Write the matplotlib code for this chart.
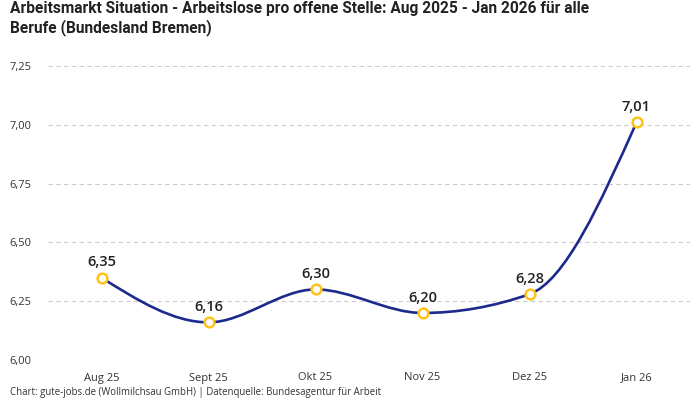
import matplotlib.pyplot as plt
import numpy as np
from matplotlib.path import Path
from matplotlib.patches import PathPatch
from matplotlib import font_manager

months = ["Aug 25", "Sept 25", "Okt 25", "Nov 25", "Dez 25", "Jan 26"]
values = [6.35, 6.16, 6.30, 6.20, 6.28, 7.01]
y_ticks = [6.00, 6.25, 6.50, 6.75, 7.00, 7.25]

title = "Arbeitsmarkt Situation - Arbeitslose pro offene Stelle: Aug 2025 - Jan 2026 für alle\nBerufe (Bundesland Bremen)"
footer = "Chart: gute-jobs.de (Wollmilchsau GmbH) | Datenquelle: Bundesagentur für Arbeit"

line_color = "#1b2a8c"
marker_color = "#ffc21a"
text_color = "#222222"


def de(v):
    return f"{v:.2f}".replace(".", ",")


def monotone_path(x, y):
    # monotone cubic like d3.curveMonotoneX
    x = np.asarray(x, float)
    y = np.asarray(y, float)
    n = len(x)
    h = np.diff(x)
    s = np.diff(y) / h
    t = np.zeros(n)
    for i in range(1, n - 1):
        p = (s[i - 1] * h[i] + s[i] * h[i - 1]) / (h[i - 1] + h[i])
        t[i] = (np.sign(s[i - 1]) + np.sign(s[i])) * min(abs(s[i - 1]), abs(s[i]), 0.5 * abs(p))
    t[0] = (3 * s[0] - t[1]) / 2
    t[-1] = (3 * s[-1] - t[-2]) / 2
    verts = [(x[0], y[0])]
    codes = [Path.MOVETO]
    for i in range(n - 1):
        dx = (x[i + 1] - x[i]) / 3
        verts += [(x[i] + dx, y[i] + dx * t[i]),
                  (x[i + 1] - dx, y[i + 1] - dx * t[i + 1]),
                  (x[i + 1], y[i + 1])]
        codes += [Path.CURVE4] * 3
    return Path(verts, codes)


installed = {f.name for f in font_manager.fontManager.ttflist}
if "Liberation Sans Narrow" in installed:
    title_font, title_size = "Liberation Sans Narrow", 12
else:
    title_font, title_size = "Roboto", 11.2

plt.rcParams["font.family"] = ["Open Sans", "DejaVu Sans"]

fig = plt.figure(figsize=(7, 4), dpi=100)
ax = fig.add_axes([48 / 700, 0.1, 642 / 700, 0.735])

xs = np.arange(len(months))
ax.add_patch(PathPatch(monotone_path(xs, values), fill=False, color=line_color, lw=1.9, zorder=3))
ax.plot(xs, values, "o", ms=7, mfc="white", mec=marker_color, mew=1.8, zorder=4)
for xi, v in zip(xs, values):
    ax.annotate(de(v), (xi, v), xytext=(0, 6), textcoords="offset points",
                ha="center", va="bottom", fontsize=10.5, fontweight="semibold", color=text_color, zorder=5)

ax.set_xlim(-0.5, len(months) - 0.5)
ax.set_ylim(6.0, 7.25)
ax.set_yticks(y_ticks)
ax.set_yticklabels([de(v) for v in y_ticks])
ax.set_xticks(xs)
ax.set_xticklabels(months)
ax.grid(axis="y", color="#cccccc", ls=(0, (4, 3)), lw=0.8)
ax.set_axisbelow(True)
for sp in ax.spines.values():
    sp.set_visible(False)
ax.tick_params(length=0, labelsize=8, colors="#333333")
ax.tick_params(axis="x", pad=9)
for lab in ax.get_yticklabels():
    lab.set_ha("left")
ax.tick_params(axis="y", pad=28)

fig.text(10 / 700, 1 - 1 / 400, title, ha="left", va="top", fontsize=title_size, fontweight="bold",
         family=[title_font, "DejaVu Sans"], color=text_color, linespacing=1.25)
fig.text(10 / 700, 1 - 393 / 400, footer, ha="left", va="center", fontsize=6.9, color="#333333")

fig.savefig("out.png", dpi=100)
